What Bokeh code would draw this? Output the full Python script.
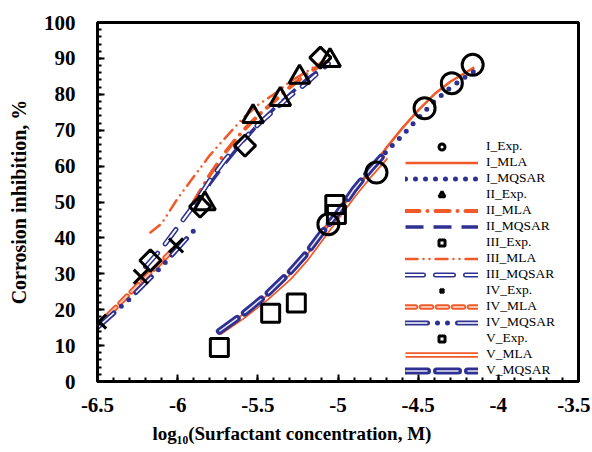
from bokeh.plotting import figure
from bokeh.models import Legend, LegendItem, FixedTicker, Range1d, Title
from bokeh.embed import file_html
from bokeh.resources import INLINE
import math

# ---------------- data ----------------
I_exp_x = [-5.06, -4.76, -4.46, -4.29, -4.16]
I_exp_y = [43.8, 58.2, 76.1, 83.1, 88.2]
I_mla_x = [-5.10, -5.00, -4.90, -4.80, -4.70, -4.60, -4.50, -4.40, -4.30, -4.15]
I_mla_y = [42.0, 47.5, 53.0, 59.0, 65.0, 70.5, 75.5, 80.0, 83.5, 87.5]
I_mq_x = [-5.05, -4.90, -4.80, -4.70, -4.60, -4.50, -4.40, -4.30, -4.20, -4.15]
I_mq_y = [44.0, 52.0, 58.5, 64.0, 68.5, 73.3, 78.0, 81.8, 85.0, 86.5]

II_exp_x = [-5.83, -5.53, -5.36, -5.24, -5.05]
II_exp_y = [49.5, 73.8, 78.6, 84.8, 89.4]
II_mla_x = [-5.90, -5.80, -5.70, -5.60, -5.50, -5.40, -5.30, -5.20, -5.08]
II_mla_y = [50.0, 57.5, 64.0, 69.5, 74.0, 78.0, 82.0, 85.5, 89.0]
II_mq_x = [-5.90, -5.80, -5.70, -5.60, -5.50, -5.40, -5.30, -5.20, -5.05]
II_mq_y = [48.0, 55.0, 61.0, 66.5, 71.5, 76.0, 80.0, 84.0, 89.0]

III_exp_x = [-6.17, -5.86, -5.58, -5.11]
III_exp_y = [33.7, 48.7, 65.7, 90.2]
III_mla_x = [-6.17, -6.10, -6.00, -5.90, -5.80, -5.70, -5.60, -5.50, -5.40, -5.30, -5.17, -5.10]
III_mla_y = [41.5, 44.0, 51.0, 57.0, 63.0, 68.0, 73.0, 77.0, 80.0, 83.5, 87.0, 89.0]
III_mq_x = [-6.20, -6.10, -6.00, -5.90, -5.80, -5.70, -5.60, -5.50, -5.40, -5.30, -5.20, -5.06]
III_mq_y = [32.0, 37.0, 43.0, 49.0, 56.0, 62.0, 67.0, 71.5, 75.5, 79.5, 83.0, 88.5]

IV_exp_x = [-6.49, -6.23, -6.01]
IV_exp_y = [16.7, 29.2, 37.9]
IV_mla_x = [-6.50, -6.40, -6.30, -6.20, -6.10, -6.00]
IV_mla_y = [15.5, 20.0, 24.5, 29.0, 33.5, 38.0]
IV_mq_x = [-6.50, -6.40, -6.30, -6.20, -6.10, -6.00, -5.90]
IV_mq_y = [15.0, 19.0, 23.0, 27.5, 32.0, 37.0, 42.0]

V_exp_x = [-5.74, -5.42, -5.26, -5.02, -5.01]
V_exp_y = [9.5, 19.0, 21.9, 49.3, 46.5]
V_mla_x = [-5.74, -5.60, -5.45, -5.30, -5.20, -5.10, -5.00, -4.90, -4.80, -4.70]
V_mla_y = [13.5, 17.8, 23.0, 29.0, 34.0, 40.0, 46.0, 52.0, 57.5, 62.5]
V_mq_x = [-5.74, -5.60, -5.45, -5.30, -5.20, -5.10, -5.00, -4.90, -4.80, -4.70]
V_mq_y = [14.0, 18.5, 24.0, 30.5, 35.5, 41.5, 47.0, 53.5, 59.0, 64.0]

x_ticks = [-6.5, -6.0, -5.5, -5.0, -4.5, -4.0, -3.5]
x_tick_labels = ["-6.5", "-6", "-5.5", "-5", "-4.5", "-4", "-3.5"]
y_ticks = [0, 10, 20, 30, 40, 50, 60, 70, 80, 90, 100]

ORANGE = "#F05A28"
BLUE = "#2E3192"
FONT = "Liberation Serif"

p = figure(width=590, height=450, x_range=Range1d(-6.5, -3.5), y_range=Range1d(0, 100),
           output_backend="svg", toolbar_location=None,
           min_border_left=97, min_border_right=12, min_border_top=22, min_border_bottom=69)
p.xgrid.visible = False
p.ygrid.visible = False
p.outline_line_color = "black"
p.outline_line_width = 3
p.background_fill_color = "white"
p.border_fill_color = "white"

minor_x = [round(-6.5 + 0.1 * i, 2) for i in range(31)]
minor_y = [2 * i for i in range(51)]
p.xaxis.ticker = FixedTicker(ticks=x_ticks, minor_ticks=minor_x)
p.yaxis.ticker = FixedTicker(ticks=y_ticks, minor_ticks=minor_y)
p.xaxis.major_label_overrides = {t: l for t, l in zip(x_ticks, x_tick_labels)}

for ax in (p.xaxis[0], p.yaxis[0]):
    ax.axis_line_width = 3
    ax.axis_line_color = "black"
    ax.major_tick_in = 7
    ax.major_tick_out = 0
    ax.minor_tick_in = 4
    ax.minor_tick_out = 0
    ax.major_tick_line_width = 2
    ax.minor_tick_line_width = 2
    ax.major_tick_line_color = "black"
    ax.minor_tick_line_color = "black"
    ax.major_label_text_font = FONT
    ax.major_label_text_font_style = "bold"
    ax.major_label_text_font_size = "21px"
    ax.major_label_text_color = "black"
    ax.axis_label_text_font = FONT
    ax.axis_label_text_font_style = "bold"
    ax.axis_label_text_font_size = "20px"
    ax.axis_label_text_color = "black"

p.yaxis.axis_label = "Corrosion inhibition, %"
p.xaxis.major_label_standoff = 16
p.yaxis.major_label_standoff = 22
p.yaxis.axis_label_standoff = 11

# x-axis title (sits left of centre in the reference)
p.add_layout(Title(text="log\u2081\u2080(Surfactant  concentration, M)", align="left", offset=55,
                   standoff=13, text_font=FONT, text_font_style="bold", text_font_size="19px",
                   text_color="black"), "below")


def ln(x, y, color, width, dash="solid", cap="butt"):
    return p.line(x, y, line_color=color, line_width=width, line_dash=dash, line_cap=cap)


# ---- curves ----
r_I_mla = [ln(I_mla_x, I_mla_y, ORANGE, 2.5)]
r_I_mq = [ln(I_mq_x, I_mq_y, BLUE, 5, "0 10", "round")]
r_II_mla = [ln(II_mla_x, II_mla_y, ORANGE, 4, "14 8 0 8", "round")]
r_II_mq = [ln(II_mq_x, II_mq_y, BLUE, 3.5, "18 10")]
r_III_mla = [ln(III_mla_x, III_mla_y, ORANGE, 2.5, "12 6 0 6 0 6", "round")]
r_III_mq = [ln(III_mq_x, III_mq_y, BLUE, 5, "18 12", "round"),
            ln(III_mq_x, III_mq_y, "white", 2, "18 12", "round")]
r_IV_mla = [ln(IV_mla_x, IV_mla_y, ORANGE, 5.5, "10 6", "round"),
            ln(IV_mla_x, IV_mla_y, "#F9C3AE", 2, "10 6", "round")]
r_IV_mq = [ln(IV_mq_x, IV_mq_y, BLUE, 5, "22 10 0 10 0 10", "round"),
           ln(IV_mq_x, IV_mq_y, "white", 1.5, "22 10 0 10 0 10", "butt")]
r_V_mla = [ln(V_mla_x, V_mla_y, ORANGE, 5.5),
           ln(V_mla_x, V_mla_y, "white", 2)]
r_V_mq = [ln(V_mq_x, V_mq_y, BLUE, 7, "22 9", "round"),
          ln(V_mq_x, V_mq_y, "#E8E8F4", 1.5, "22 9", "butt")]

# ---- experimental markers ----
mk = dict(line_color="black", line_width=3, fill_color=None)
r_I_exp = [p.scatter(I_exp_x, I_exp_y, marker="circle", size=21, **mk)]
r_II_exp = [p.scatter(II_exp_x, II_exp_y, marker="triangle", size=21, **mk)]
r_III_exp = [p.scatter(III_exp_x, III_exp_y, marker="square", angle=math.pi / 4, size=15, **mk)]
r_IV_exp = [p.scatter(IV_exp_x, IV_exp_y, marker="x", size=20, line_color="black", line_width=3)]
r_V_exp = [p.scatter(V_exp_x, V_exp_y, marker="square", size=18, **mk)]

entries = [
    ("I_Exp.", r_I_exp), ("I_MLA", r_I_mla), ("I_MQSAR", r_I_mq),
    ("II_Exp.", r_II_exp), ("II_MLA", r_II_mla), ("II_MQSAR", r_II_mq),
    ("III_Exp.", r_III_exp), ("III_MLA", r_III_mla), ("III_MQSAR", r_III_mq),
    ("IV_Exp.", r_IV_exp), ("IV_MLA", r_IV_mla), ("IV_MQSAR", r_IV_mq),
    ("V_Exp.", r_V_exp), ("V_MLA", r_V_mla), ("V_MQSAR", r_V_mq),
]
legend = Legend(items=[LegendItem(label=l, renderers=r) for l, r in entries],
                location=(308, 3), orientation="vertical",
                glyph_width=73, glyph_height=15, label_height=15, spacing=0,
                padding=0, margin=0, label_standoff=8,
                border_line_color=None, background_fill_alpha=0,
                label_text_font=FONT, label_text_font_size="13.5px",
                label_text_color="black")
p.add_layout(legend, "center")

open("out.html", "w").write(file_html(p, INLINE))
